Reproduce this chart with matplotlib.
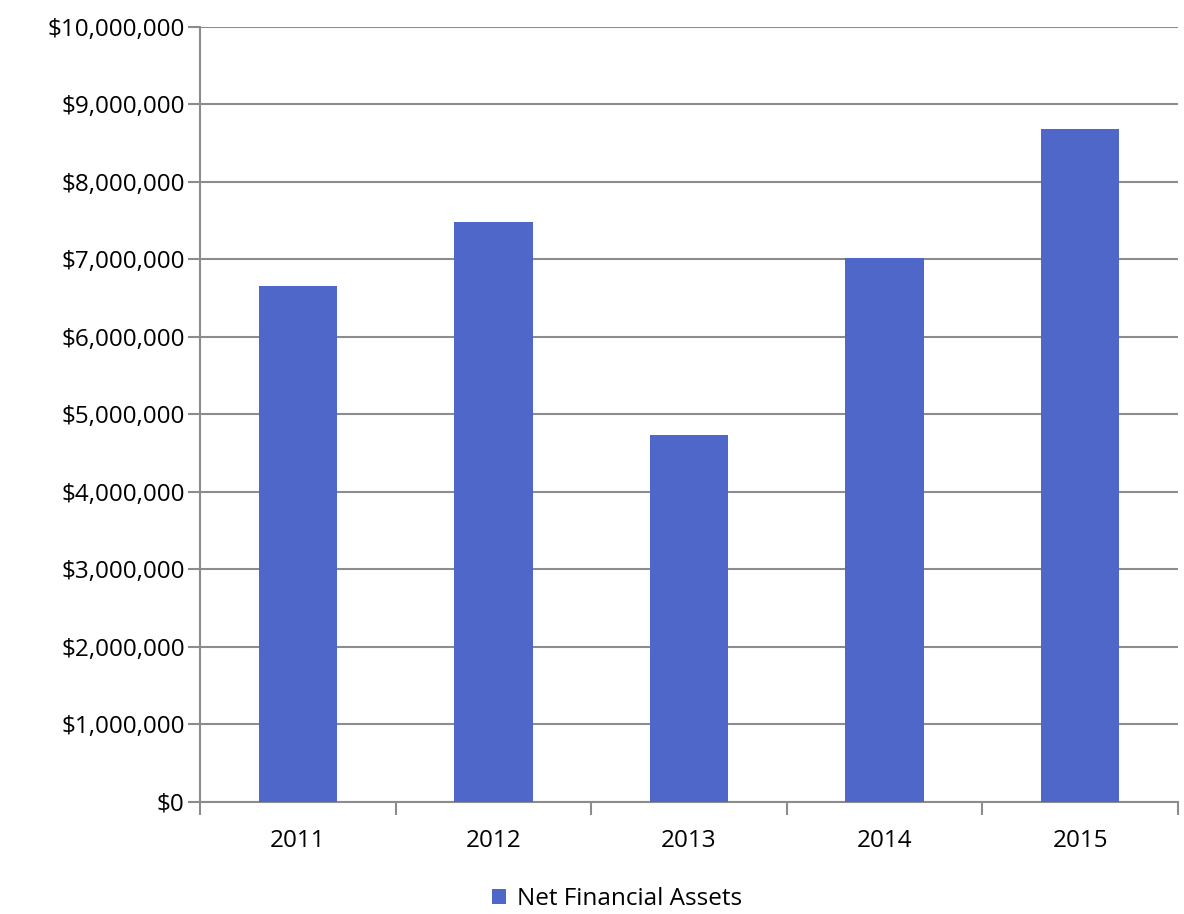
import matplotlib
matplotlib.use("Agg")
import matplotlib.pyplot as plt
from matplotlib.ticker import FuncFormatter, FixedLocator
from matplotlib.patches import Patch

years = ["2011", "2012", "2013", "2014", "2015"]
net_financial_assets = [6_660_000, 7_480_000, 4_728_000, 7_018_000, 8_683_000]
series_name = "Net Financial Assets"

bar_color = "#4f67c8"
grid_color = "#8c8c8c"

plt.rcParams["font.family"] = ["Open Sans", "DejaVu Sans"]

fig = plt.figure(figsize=(11.84, 9.14), dpi=100)
ax = fig.add_axes([200 / 1184, 1 - 801.5 / 914, 978 / 1184, (801.5 - 27) / 914])

x = list(range(len(years)))
ax.bar(x, net_financial_assets, width=0.4, color=bar_color, zorder=3)

ax.set_xlim(-0.5, len(years) - 0.5)
ax.set_ylim(0, 10_000_000)
ax.set_yticks([i * 1_000_000 for i in range(11)])
ax.yaxis.set_major_formatter(FuncFormatter(lambda v, p: f"${v:,.0f}"))
ax.yaxis.grid(True, color=grid_color, linewidth=1.5, zorder=0)

ax.set_xticks(x)
ax.set_xticklabels(years)
ax.xaxis.set_minor_locator(FixedLocator([i - 0.5 for i in range(len(years) + 1)]))
ax.tick_params(axis="x", which="major", length=0, pad=20, labelsize=17.5)
ax.tick_params(axis="x", which="minor", length=9, width=1.5, color=grid_color)
ax.tick_params(axis="y", which="major", length=9, width=1.5, color=grid_color,
               pad=2, labelsize=17.5)

for side in ["top", "right"]:
    ax.spines[side].set_visible(False)
for side in ["left", "bottom"]:
    ax.spines[side].set_color(grid_color)
    ax.spines[side].set_linewidth(1.5)

handle = Patch(facecolor=bar_color, edgecolor="none")
fig.legend([handle], [series_name], loc="center",
           bbox_to_anchor=(617 / 1184, 1 - 899 / 914), frameon=False,
           fontsize=17.5, handlelength=0.6, handleheight=0.6, handletextpad=0.45)

fig.savefig("out.png", dpi=100)
